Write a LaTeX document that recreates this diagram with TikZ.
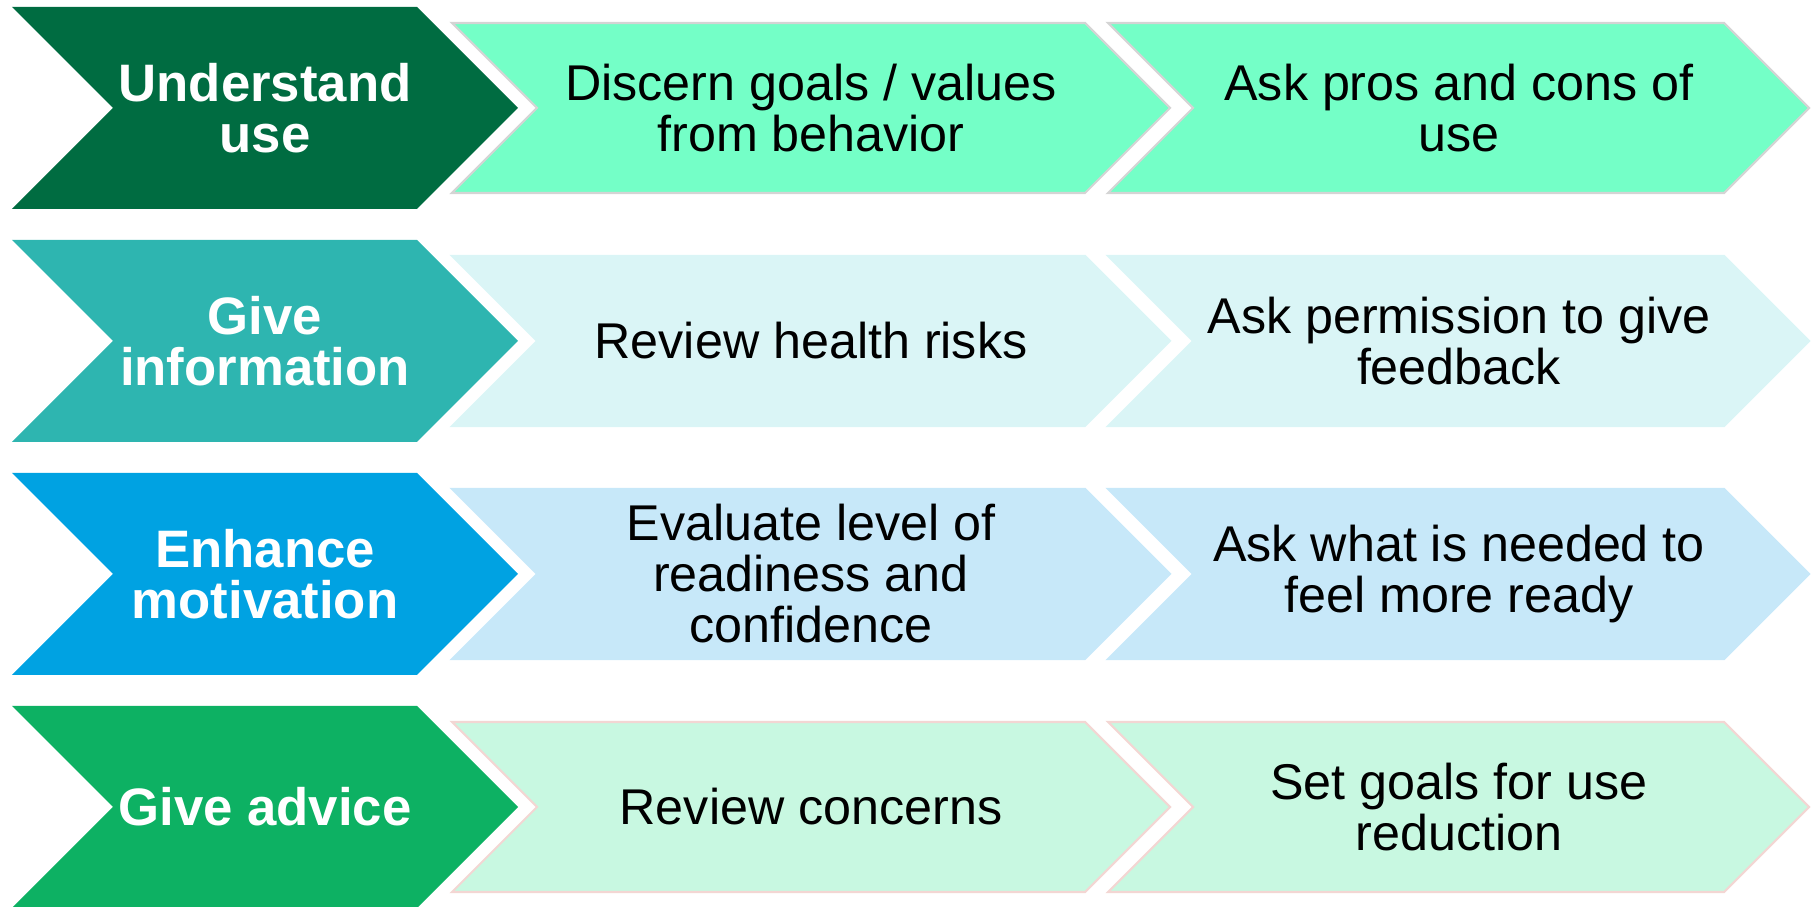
\documentclass[tikz,border=0pt]{standalone}
\usepackage{fontspec}
\setmainfont{Liberation Sans}

\definecolor{verdeOsc}{RGB}{0,108,65}
\definecolor{verdeCla}{RGB}{116,255,199}
\definecolor{tealOsc}{RGB}{46,181,176}
\definecolor{tealCla}{RGB}{218,245,246}
\definecolor{azulOsc}{RGB}{0,162,226}
\definecolor{azulCla}{RGB}{199,232,249}
\definecolor{menta}{RGB}{13,177,99}
\definecolor{mentaCla}{RGB}{200,248,225}
\definecolor{bordeGris}{RGB}{212,212,212}
\definecolor{bordeRosa}{RGB}{243,214,211}

\tikzset{
  etapa/.style={font=\fontsize{15}{14.5}\selectfont\bfseries, text=white, align=center},
  paso/.style={font=\fontsize{14.3}{14.5}\selectfont, align=center}
}

\begin{document}
\begin{tikzpicture}
            \useasboundingbox (0,0) rectangle (18.16,9.07);

            % Flechas
            \foreach \y/\osc/\cla/\borde in {7.99/verdeOsc/verdeCla/bordeGris, 5.66/tealOsc/tealCla/tealCla, 3.33/azulOsc/azulCla/azulCla, 1.00/menta/mentaCla/bordeRosa} {
                \fill[\osc] (0.12,\y+1.01) -- (4.17,\y+1.01) -- (5.18,\y) -- (4.17,\y-1.01) -- (0.12,\y-1.01) -- (1.13,\y) -- cycle;
                \filldraw[fill=\cla, draw=\borde, line width=0.6pt] (4.52,\y+0.85) -- (10.85,\y+0.85) -- (11.70,\y) -- (10.85,\y-0.85) -- (4.52,\y-0.85) -- (5.37,\y) -- cycle;
                \filldraw[fill=\cla, draw=\borde, line width=0.6pt] (11.08,\y+0.85) -- (17.24,\y+0.85) -- (18.09,\y) -- (17.24,\y-0.85) -- (11.08,\y-0.85) -- (11.93,\y) -- cycle;
            }

            % Etapas
            \node[etapa] (entender) at (2.65,7.99) {Understand\\use};
            \node[etapa] (informar) at (2.65,5.66) {Give\\information};
            \node[etapa] (motivar) at (2.65,3.33) {Enhance\\motivation};
            \node[etapa] (aconsejar) at (2.65,1.00) {Give advice};

            % Pasos
            \node[paso] (metas) at (8.11,7.99) {Discern goals / values\\from behavior};
            \node[paso] (pros) at (14.59,7.99) {Ask pros and cons of\\use};
            \node[paso] (riesgos) at (8.11,5.66) {Review health risks};
            \node[paso] (permiso) at (14.59,5.66) {Ask permission to give\\feedback};
            \node[paso] (nivel) at (8.11,3.33) {Evaluate level of\\readiness and\\confidence};
            \node[paso] (listo) at (14.59,3.33) {Ask what is needed to\\feel more ready};
            \node[paso] (dudas) at (8.11,1.00) {Review concerns};
            \node[paso] (reducir) at (14.59,1.00) {Set goals for use\\reduction};
        \end{tikzpicture}
\end{document}
